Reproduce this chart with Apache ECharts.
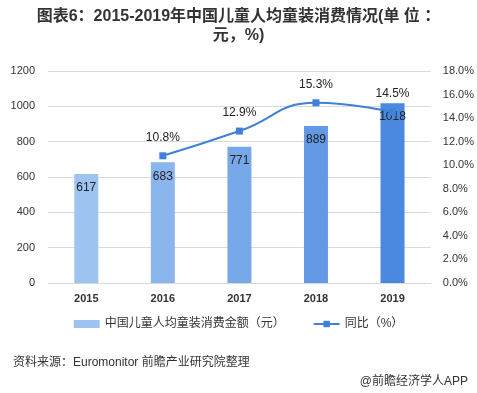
<!DOCTYPE html>
<html><head><meta charset="utf-8">
<script src="https://cdn.jsdelivr.net/npm/echarts@6/dist/echarts.min.js"></script>
<style>html,body{margin:0;padding:0;background:#fff;}#c{width:477px;height:393px;}</style>
</head><body><div id="c"></div>
<script>
const years = ['2015','2016','2017','2018','2019'];
const spend = [617, 683, 771, 889, 1018];
const growth = [null, 10.8, 12.9, 15.3, 14.5];
const barColors = ['#9dc3f1','#8ab5ed','#77a8ea','#6399e5','#4a89df'];
const leftTicks = {min:0, max:1200, interval:200};
const rightTicks = {min:0, max:18, interval:2};

const FONT = '"Liberation Sans", Arial, "Noto Sans CJK SC", sans-serif';
const chart = echarts.init(document.getElementById('c'));
chart.setOption({
  animation:false,
  textStyle:{fontFamily:FONT},
  title:[
    {text:'图表6：2015-2019年中国儿童人均童装消费情况(单 位 ：\n元，%)', left:'center', top:2,
     textStyle:{fontSize:16, fontWeight:'bold', color:'#333', lineHeight:19, fontFamily:FONT, align:'center'}},
    {text:'资料来源：Euromonitor 前瞻产业研究院整理', left:8, top:352, textStyle:{fontSize:12, fontWeight:'normal', color:'#333', fontFamily:FONT}},
    {text:'@前瞻经济学人APP', right:4, top:371, textStyle:{fontSize:12, fontWeight:'normal', color:'#333', fontFamily:FONT}}
  ],
  grid:{left:48, right:44, top:71, bottom:110},
  legend:{
    bottom:58, left:'center', itemGap:28, itemWidth:26, itemHeight:8,
    textStyle:{fontSize:12, color:'#333'},
    data:[{name:'中国儿童人均童装消费金额（元）', icon:'rect', itemStyle:{color:'#9dc3f1'}},
          {name:'同比（%）'}]
  },
  xAxis:{type:'category', data:years,
    axisLine:{lineStyle:{color:'#d9d9d9'}}, axisTick:{show:false},
    axisLabel:{fontSize:11, fontWeight:'bold', color:'#333', margin:10}},
  yAxis:[
    {type:'value', min:leftTicks.min, max:leftTicks.max, interval:leftTicks.interval,
     axisLine:{show:false}, axisTick:{show:false},
     axisLabel:{fontSize:11, color:'#333', margin:13, formatter:v=>String(v)},
     splitLine:{lineStyle:{color:'#d9d9d9'}}},
    {type:'value', min:rightTicks.min, max:rightTicks.max, interval:rightTicks.interval,
     axisLine:{show:false}, axisTick:{show:false}, splitLine:{show:false},
     axisLabel:{fontSize:11, color:'#333', margin:12, formatter:v=>v.toFixed(1)+'%'}}
  ],
  series:[
    {name:'中国儿童人均童装消费金额（元）', type:'bar', barWidth:24,
     data:spend.map((v,i)=>({value:v, itemStyle:{color:barColors[i]}})),
     itemStyle:{color:'#9dc3f1'},
     label:{show:true, position:'insideTop', fontSize:12, color:'#222', distance:8}},
    {name:'同比（%）', type:'line', yAxisIndex:1, smooth:true, data:growth,
     symbol:'rect', symbolSize:7, connectNulls:false,
     lineStyle:{color:'#3f80d9', width:2}, itemStyle:{color:'#3f80d9'},
     label:{show:true, position:'top', distance:9, fontSize:12, color:'#222', formatter:p=>p.value.toFixed(1)+'%'}}
  ]
});
</script></body></html>
